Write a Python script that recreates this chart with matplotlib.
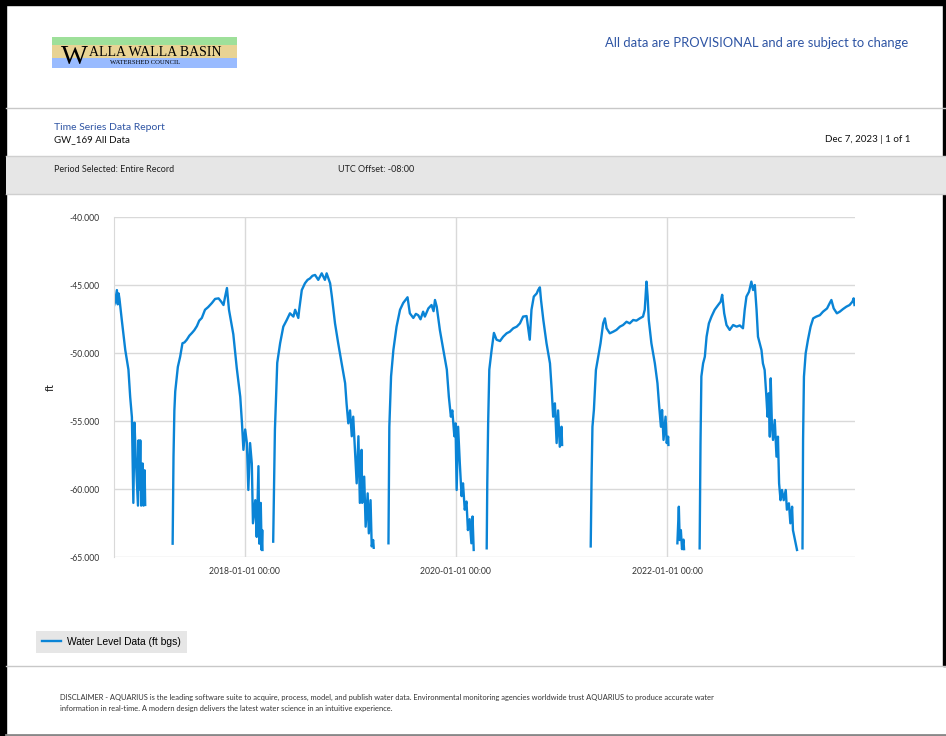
import matplotlib.pyplot as plt
import matplotlib.dates as mdates
import numpy as np
import pandas as pd
from matplotlib.patches import Rectangle
from matplotlib.ticker import FormatStrFormatter

# GW_169 water level readings (ft), one logger run per block
dates = [
    # 2016-17
    '2016-10-04', '2016-10-09', '2016-10-15', '2016-10-18', '2016-10-21', '2016-10-24',
    '2016-11-01', '2016-11-13', '2016-11-24', '2016-11-30', '2016-12-06', '2016-12-11',
    '2016-12-15', '2016-12-19', '2016-12-27', '2016-12-29', '2017-01-01', '2017-01-04',
    '2017-01-07', '2017-01-12', '2017-01-15', '2017-01-19', '2017-01-21',
    # 2017-18
    '2017-04-26', '2017-04-29', '2017-05-02', '2017-05-05', '2017-05-14', '2017-05-22',
    '2017-05-30', '2017-06-06', '2017-06-14', '2017-06-23', '2017-07-02', '2017-07-10',
    '2017-07-19', '2017-07-27', '2017-08-05', '2017-08-16', '2017-08-27', '2017-09-09',
    '2017-09-20', '2017-10-02', '2017-10-11', '2017-10-19', '2017-10-25', '2017-10-31',
    '2017-11-07', '2017-11-22', '2017-12-04', '2017-12-16', '2017-12-22', '2017-12-27',
    '2018-01-02', '2018-01-08', '2018-01-13', '2018-01-19', '2018-01-25', '2018-01-29',
    '2018-02-06', '2018-02-11', '2018-02-17', '2018-02-20', '2018-02-25', '2018-02-28',
    '2018-03-02', '2018-03-03',
    # 2018-19
    '2018-04-09', '2018-04-15', '2018-04-19', '2018-04-23', '2018-05-03', '2018-05-14',
    '2018-05-26', '2018-06-06', '2018-06-18', '2018-06-24', '2018-07-05', '2018-07-08',
    '2018-07-17', '2018-07-28', '2018-08-06', '2018-08-14', '2018-08-23', '2018-09-01',
    '2018-09-12', '2018-09-24', '2018-10-05', '2018-10-11', '2018-10-23', '2018-10-29',
    '2018-11-09', '2018-11-20', '2018-12-02', '2018-12-14', '2018-12-19', '2018-12-25',
    '2018-12-31', '2019-01-06', '2019-01-11', '2019-01-17', '2019-01-23', '2019-01-29',
    '2019-02-03', '2019-02-09', '2019-02-11', '2019-02-18', '2019-02-23', '2019-03-02',
    '2019-03-06', '2019-03-12', '2019-03-16', '2019-03-21', '2019-03-23',
    # 2019-20
    '2019-05-13', '2019-05-16', '2019-05-22', '2019-05-30', '2019-06-10', '2019-06-22',
    '2019-07-03', '2019-07-18', '2019-07-26', '2019-08-07', '2019-08-16', '2019-08-24',
    '2019-09-01', '2019-09-10', '2019-09-16', '2019-09-28', '2019-10-09', '2019-10-16',
    '2019-10-21', '2019-10-27', '2019-11-07', '2019-11-19', '2019-12-01', '2019-12-08',
    '2019-12-15', '2019-12-20', '2019-12-27', '2019-12-31', '2020-01-04', '2020-01-09',
    '2020-01-15', '2020-01-21', '2020-01-26', '2020-02-01', '2020-02-07', '2020-02-12',
    '2020-02-18', '2020-02-24', '2020-02-28', '2020-03-03',
    # 2020-21
    '2020-04-17', '2020-04-19', '2020-04-22', '2020-04-26', '2020-05-04', '2020-05-12',
    '2020-05-21', '2020-06-02', '2020-06-13', '2020-06-25', '2020-07-06', '2020-07-18',
    '2020-07-30', '2020-08-10', '2020-08-21', '2020-09-02', '2020-09-13', '2020-09-19',
    '2020-09-27', '2020-10-07', '2020-10-12', '2020-10-18', '2020-10-22', '2020-10-30',
    '2020-11-10', '2020-11-22', '2020-11-28', '2020-12-03', '2020-12-09', '2020-12-15',
    '2020-12-20', '2020-12-26', '2021-01-01', '2021-01-03',
    # 2021-22
    '2021-04-12', '2021-04-15', '2021-04-18', '2021-04-23', '2021-04-30', '2021-05-08',
    '2021-05-16', '2021-05-25', '2021-05-31', '2021-06-06', '2021-06-17', '2021-06-29',
    '2021-07-10', '2021-07-22', '2021-08-02', '2021-08-14', '2021-08-25', '2021-09-06',
    '2021-09-17', '2021-09-29', '2021-10-10', '2021-10-16', '2021-10-22', '2021-10-26',
    '2021-10-30', '2021-11-08', '2021-11-20', '2021-11-29', '2021-12-05', '2021-12-11',
    '2021-12-15', '2021-12-20', '2021-12-27', '2021-12-31', '2022-01-05', '2022-01-06',
    # short run, Feb 2022
    '2022-02-06', '2022-02-11', '2022-02-14', '2022-02-18', '2022-02-22', '2022-02-27',
    '2022-03-01',
    # 2022-23
    '2022-04-24', '2022-04-27', '2022-04-30', '2022-05-06', '2022-05-12', '2022-05-18',
    '2022-05-26', '2022-06-04', '2022-06-15', '2022-06-27', '2022-07-06', '2022-07-11',
    '2022-07-18', '2022-07-26', '2022-08-06', '2022-08-18', '2022-08-30', '2022-09-10',
    '2022-09-21', '2022-09-27', '2022-10-03', '2022-10-12', '2022-10-20', '2022-10-26',
    '2022-11-01', '2022-11-07', '2022-11-12', '2022-11-24', '2022-11-29', '2022-12-05',
    '2022-12-11', '2022-12-15', '2022-12-19', '2022-12-23', '2022-12-26', '2022-12-30',
    '2023-01-03', '2023-01-09', '2023-01-15', '2023-01-20', '2023-01-24', '2023-01-29',
    '2023-02-03', '2023-02-09', '2023-02-16', '2023-02-20', '2023-02-27', '2023-03-04',
    '2023-03-10', '2023-03-13', '2023-03-27',
    # 2023
    '2023-04-15', '2023-04-17', '2023-04-20', '2023-04-26', '2023-05-04', '2023-05-13',
    '2023-05-22', '2023-06-02', '2023-06-14', '2023-06-25', '2023-07-09', '2023-07-18',
    '2023-07-24', '2023-08-01', '2023-08-12', '2023-08-22', '2023-09-02', '2023-09-14',
    '2023-09-25', '2023-10-05', '2023-10-09', '2023-10-12',
]

level_ft = [
    -46.6, -46.2, -45.35, -46.4, -45.6, -46.0,
    -47.55, -49.75, -51.2, -53.2, -54.7, -61.0,
    -55.1, -57.5, -61.2, -56.4, -60.0, -56.4,
    -61.2, -58.1, -61.2, -58.6, -61.15,

    -64.0, -57.6, -54.2, -52.8, -51.0, -50.25,
    -49.26, -49.2, -49.0, -48.7, -48.5, -48.3,
    -48.0, -47.6, -47.4, -46.8, -46.6, -46.3,
    -46.0, -45.96, -46.2, -46.45, -45.8, -45.2,
    -46.8, -48.6, -51.1, -53.2, -55.15, -57.1,
    -55.6, -56.6, -60.05, -56.6, -58.1, -62.5,
    -60.8, -63.5, -58.3, -64.0, -61.0, -64.46,
    -63.0, -64.46,

    -63.85, -55.6, -53.2, -50.7, -49.26, -48.04,
    -47.55, -47.06, -47.3, -46.8, -47.4, -46.8,
    -45.35, -44.85, -44.6, -44.5, -44.3, -44.24,
    -44.6, -44.12, -44.6, -44.12, -44.85, -45.8,
    -47.8, -49.26, -50.74, -52.2, -53.7, -55.15,
    -54.2, -56.1, -54.66, -57.1, -59.56, -56.1,
    -61.0, -57.1, -61.0, -59.07, -62.75, -60.3,
    -63.24, -60.8, -64.2, -63.73, -64.3,

    -63.97, -55.4, -51.7, -49.76, -48.04, -46.8,
    -46.3, -45.88, -47.06, -47.4, -47.1, -47.2,
    -47.5, -46.94, -47.3, -46.7, -46.45, -46.9,
    -46.08, -46.57, -48.3, -49.76, -51.2, -53.2,
    -54.66, -54.2, -56.1, -55.15, -60.05, -55.4,
    -58.1, -60.5, -59.56, -61.5, -60.9, -63.0,
    -62.2, -63.97, -62.0, -64.46,

    -64.34, -59.56, -55.15, -51.2, -49.76, -48.5,
    -49.0, -49.1, -48.78, -48.53, -48.41, -48.16,
    -48.04, -47.8, -47.3, -47.26, -49.0, -46.8,
    -45.83, -45.6, -45.35, -45.15, -46.08, -47.55,
    -49.26, -50.74, -52.7, -54.66, -53.68, -56.6,
    -54.2, -56.87, -55.4, -56.74,

    -64.2, -59.07, -55.4, -54.17, -51.23, -50.25,
    -49.26, -47.8, -47.43, -48.16, -48.53, -48.41,
    -48.28, -48.04, -47.92, -47.68, -47.8, -47.55,
    -47.6, -47.43, -47.3, -46.8, -44.73, -45.83,
    -47.55, -49.26, -50.74, -52.2, -53.9, -55.4,
    -54.17, -56.37, -54.66, -56.6, -56.13, -56.74,

    -63.97, -61.28, -63.73, -63.0, -64.4, -63.7,
    -64.4,

    -64.34, -56.6, -51.7, -50.74, -50.25, -48.78,
    -47.8, -47.3, -46.8, -46.45, -46.2, -45.7,
    -47.06, -47.92, -48.28, -47.92, -48.04, -47.95,
    -48.16, -46.8, -45.83, -45.47, -44.73, -45.35,
    -44.98, -46.8, -48.78, -49.76, -50.74, -51.23,
    -53.2, -54.66, -52.94, -56.13, -51.84, -55.15,
    -56.37, -54.9, -57.6, -56.13, -59.56, -60.8,
    -60.05, -60.8, -60.05, -61.5, -61.03, -62.5,
    -61.28, -63.0, -64.46,

    -64.34, -56.37, -51.72, -50.0, -49.0, -48.04,
    -47.43, -47.3, -47.2, -46.94, -46.7, -46.32,
    -46.08, -46.7, -47.06, -46.94, -46.75, -46.57,
    -46.45, -46.2, -45.96, -46.45,
]

# first reading of each run after a gap in the record
run_starts = ['2017-04-26', '2018-04-09', '2019-05-13', '2020-04-17',
              '2021-04-12', '2022-02-06', '2022-04-24', '2023-04-15']

y_ticks = [-40, -45, -50, -55, -60, -65]
x_ticks = ['2018-01-01', '2020-01-01', '2022-01-01']

disclaimer = [
    'DISCLAIMER - AQUARIUS is the leading software suite to acquire, process, model, and publish water data. '
    'Environmental monitoring agencies worldwide trust AQUARIUS to produce accurate water',
    'information in real-time. A modern design delivers the latest water science in an intuitive experience.',
]

W, H = 946, 736
LINE_BLUE = '#0a84d6'
HEAD_BLUE = '#2f55a4'
GRID = '#d9d9d9'

plt.rcParams['font.family'] = ['Lato', 'DejaVu Sans']


def px_box(x0, y0, x1, y1):
    return [x0 / W, 1 - y1 / H, (x1 - x0) / W, (y1 - y0) / H]


fig = plt.figure(figsize=(W / 100, H / 100), dpi=100)

# page furniture in pixel coordinates
page = fig.add_axes([0, 0, 1, 1])
page.set_xlim(0, W)
page.set_ylim(H, 0)
page.axis('off')

page.add_patch(Rectangle((0, 0), 6, H, color='black'))
page.add_patch(Rectangle((0, 0), W, 5, color='black'))
page.add_patch(Rectangle((W - 3, 0), 3, 666, color='black'))
page.plot([6, W], [108, 108], color='#c8c8c8', lw=1)
page.add_patch(Rectangle((6, 156), W - 6, 38, facecolor='#e6e6e6', edgecolor='none'))
page.plot([6, W], [156, 156], color='#cfcfcf', lw=1)
page.plot([6, W], [194, 194], color='#cfcfcf', lw=1)
page.plot([6, W], [666, 666], color='#c8c8c8', lw=1)
page.plot([6, W], [735, 735], color='#888888', lw=2)

# logo
page.add_patch(Rectangle((52, 37), 184.5, 7.5, facecolor='#9ee09a', edgecolor='none'))
page.add_patch(Rectangle((52, 44.5), 184.5, 13, facecolor='#e8d394', edgecolor='none'))
page.add_patch(Rectangle((52, 57.5), 184.5, 10, facecolor='#99bbff', edgecolor='none'))
page.text(61, 63.5, 'W', family='Liberation Serif', fontsize=20.5, color='black', va='baseline')
page.text(89, 56, 'ALLA WALLA BASIN', family='Liberation Serif', fontsize=10, color='black', va='baseline')
page.text(145, 64.5, 'WATERSHED COUNCIL', family='Liberation Serif', fontsize=4.8,
          color='black', ha='center', va='baseline')

page.text(908, 43, 'All data are PROVISIONAL and are subject to change', fontsize=9.4,
          color=HEAD_BLUE, ha='right', va='center')
page.text(54, 127, 'Time Series Data Report', fontsize=7.5, color=HEAD_BLUE, va='center')
page.text(54, 140, 'GW_169 All Data', fontsize=7, color='#111111', va='center')
page.text(910, 140, 'Dec 7, 2023 | 1 of 1', fontsize=7, color='#111111', ha='right', va='center')
page.text(54, 169, 'Period Selected: Entire Record', fontsize=6.5, color='#222222', va='center')
page.text(338, 169, 'UTC Offset: -08:00', fontsize=6.5, color='#222222', va='center')
page.text(50, 387, 'ft', fontsize=8, color='#222222', rotation=90, ha='center', va='center')
for i, line in enumerate(disclaimer):
    page.text(60, 697 + 12 * i, line, fontsize=5.4, color='#333333', va='center')

# chart
ax = fig.add_axes(px_box(113.7, 217.3, 854.5, 557.3))
t = pd.to_datetime(dates)
v = np.array(level_ft)
cuts = np.searchsorted(t.values, pd.to_datetime(run_starts).values)
for i, (ts, vs) in enumerate(zip(np.split(t.values, cuts), np.split(v, cuts))):
    ax.plot(ts, vs, color=LINE_BLUE, lw=1.7,
            label='Water Level Data (ft bgs)' if i == 0 else None)

ax.set_xlim(t[0], t[-1])
ax.set_ylim(min(y_ticks), max(y_ticks))
ax.set_yticks(y_ticks)
ax.yaxis.set_major_formatter(FormatStrFormatter('%.3f'))
ax.set_xticks(pd.to_datetime(x_ticks))
ax.xaxis.set_major_formatter(mdates.DateFormatter('%Y-%m-%d %H:%M'))
ax.grid(color=GRID, lw=1)
ax.set_axisbelow(True)
for name, sp in ax.spines.items():
    sp.set_visible(name == 'left')
ax.spines['left'].set_color(GRID)
ax.tick_params(length=0, labelcolor='#333333')
ax.tick_params(axis='y', labelsize=6.2, pad=10)
ax.tick_params(axis='x', labelsize=6.2, pad=7)

fig.legend(loc='center left', bbox_to_anchor=(36 / W, 1 - 642 / H),
           prop={'family': 'Liberation Sans', 'size': 7.4}, frameon=True,
           facecolor='#e6e6e6', edgecolor='none', fancybox=False, framealpha=1,
           handlelength=1.9, handletextpad=0.6, borderpad=0.55, borderaxespad=0)

fig.savefig('out.png', dpi=100)
